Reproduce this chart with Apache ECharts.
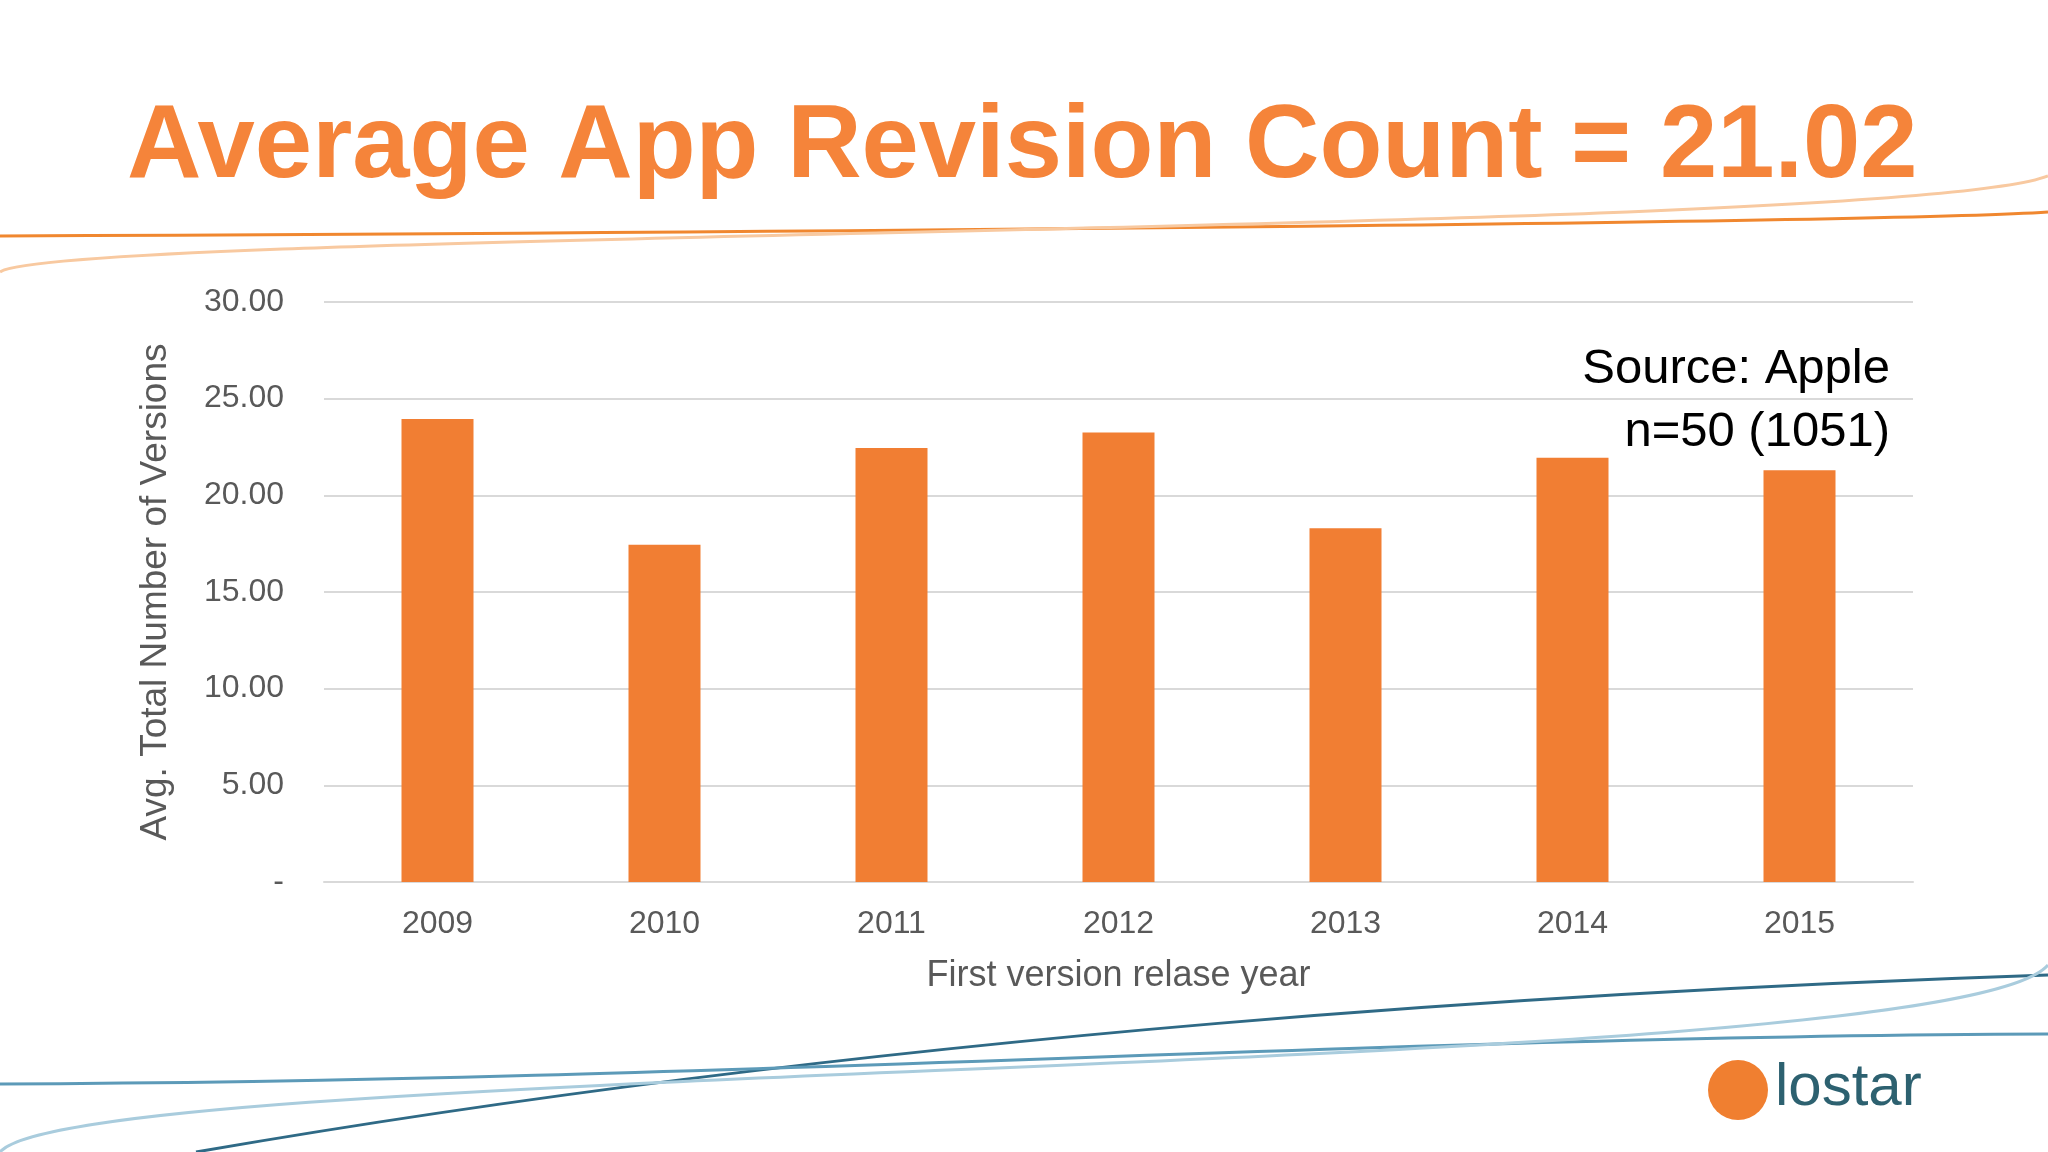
<!DOCTYPE html>
<html><head><meta charset="utf-8">
<script src="https://cdn.jsdelivr.net/npm/echarts@6/dist/echarts.min.js"></script>
<style>html,body{margin:0;padding:0;background:#fff}#main{width:2048px;height:1152px}</style>
</head><body><div id="main"></div>
<script>
var years = ['2009', '2010', '2011', '2012', '2013', '2014', '2015'];
var avgVersions = [23.95, 17.45, 22.45, 23.25, 18.3, 21.95, 21.3];
var yTicks = [0, 5, 10, 15, 20, 25, 30];

var chart = echarts.init(document.getElementById('main'));
var font = 'Liberation Sans, Arial, sans-serif';
chart.setOption({
    backgroundColor: '#fff',
    animation: false,
    title: {
        text: 'Average App Revision Count = 21.02',
        left: 122, top: 92,
        textStyle: {color: '#F5843A', fontSize: 103, fontWeight: 'bold', fontFamily: font}
    },
    grid: {left: 324, right: 135, top: 302, bottom: 270},
    xAxis: {
        type: 'category', data: years,
        name: 'First version relase year', nameLocation: 'middle', nameGap: 76,
        nameTextStyle: {color: '#595959', fontSize: 36, fontFamily: font},
        axisLine: {lineStyle: {color: '#d9d9d9', width: 2}},
        axisTick: {show: false},
        axisLabel: {color: '#595959', fontSize: 32, margin: 26, fontFamily: font}
    },
    yAxis: {
        type: 'value', min: yTicks[0], max: yTicks[yTicks.length - 1], interval: 5,
        name: 'Avg. Total Number of Versions', nameLocation: 'middle', nameGap: 150,
        nameTextStyle: {color: '#595959', fontSize: 37, fontFamily: font},
        axisLine: {show: false}, axisTick: {show: false},
        splitLine: {lineStyle: {color: '#d9d9d9', width: 2}},
        axisLabel: {color: '#595959', fontSize: 32, margin: 40, fontFamily: font,
            formatter: function (v) { return v === 0 ? '-' : v.toFixed(2); }}
    },
    series: [{
        type: 'bar', data: avgVersions, barWidth: 72,
        itemStyle: {color: '#F17E33'}
    }],
    graphic: [
        {type: 'text', x: 1890, y: 345, style: {text: 'Source: Apple', align: 'right',
            fill: '#000', fontSize: 49, fontFamily: font}},
        {type: 'text', x: 1890, y: 408, style: {text: 'n=50 (1051)', align: 'right',
            fill: '#000', fontSize: 49, fontFamily: font}},
        {type: 'bezierCurve', shape: {x1: 0, y1: 236, cpx1: 900, cpy1: 232, cpx2: 1900, cpy2: 222, x2: 2048, y2: 212},
            style: {stroke: '#F0872F', lineWidth: 3, fill: null}},
        {type: 'bezierCurve', shape: {x1: 0, y1: 272, cpx1: 60, cpy1: 230, cpx2: 1900, cpy2: 235, x2: 2048, y2: 176},
            style: {stroke: '#F8C9A0', lineWidth: 3, fill: null}},
        {type: 'bezierCurve', shape: {x1: 196, y1: 1152, cpx1: 900, cpy1: 1030, cpx2: 1600, cpy2: 990, x2: 2048, y2: 975},
            style: {stroke: '#2F6A86', lineWidth: 3, fill: null}},
        {type: 'bezierCurve', shape: {x1: 0, y1: 1084, cpx1: 700, cpy1: 1082, cpx2: 1400, cpy2: 1036, x2: 2048, y2: 1034},
            style: {stroke: '#5C9AB8', lineWidth: 3, fill: null}},
        {type: 'bezierCurve', shape: {x1: 0, y1: 1152, cpx1: 80, cpy1: 1060, cpx2: 1950, cpy2: 1080, x2: 2048, y2: 965},
            style: {stroke: '#A9CCDD', lineWidth: 3, fill: null}},
        {type: 'circle', shape: {cx: 1738, cy: 1090, r: 30}, style: {fill: '#F07F30'}},
        {type: 'text', left: 1775, top: 1058, style: {text: 'lostar', fill: '#2D6170', fontSize: 60,
            fontFamily: font}}
    ]
});
</script></body></html>
